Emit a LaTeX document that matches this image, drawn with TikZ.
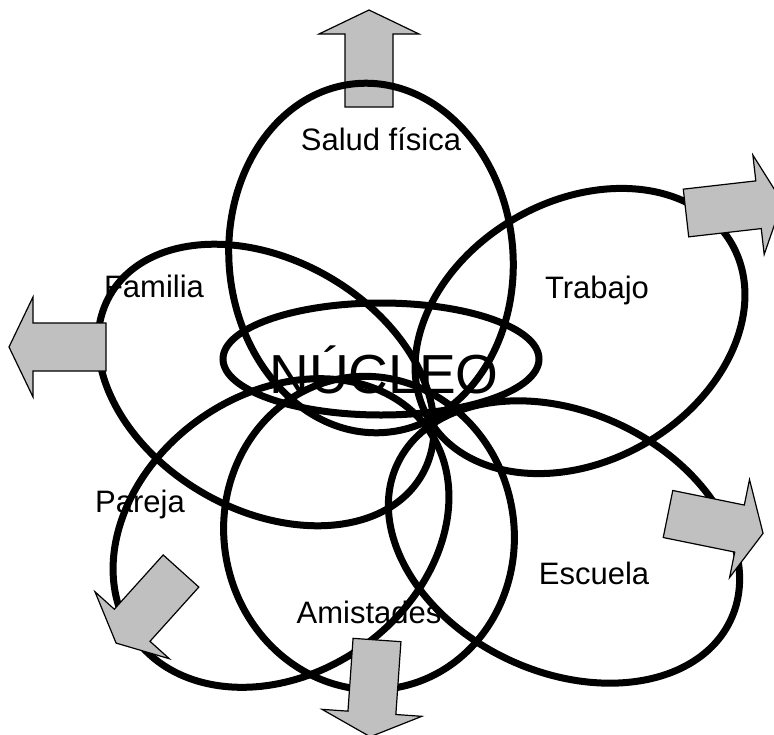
\documentclass[tikz,border=0pt]{standalone}
\usepackage{fontspec}
\setmainfont{Liberation Sans}
\usepackage{tikz}
\usetikzlibrary{positioning}
\definecolor{FlechaGris}{HTML}{C0C0C0}

\newcommand{\flecha}[3]{%
  \draw[flechagris, shift={(#1,#2)}, rotate=#3]
    (0,-24) -- (73,-24) -- (73,-50) -- (97,0) -- (73,50) -- (73,24) -- (0,24) -- cycle;}

\begin{document}
\begin{tikzpicture}[x=1pt, y=-1pt]
      \tikzset{
        petalo/.style={line width=7pt, black},
        flechagris/.style={fill=FlechaGris, draw=black, line width=1.2pt, line join=miter},
        etiqueta/.style={font=\fontsize{31}{31}\selectfont, anchor=base, inner sep=0pt},
        nucleo/.style={font=\fontsize{55}{55}\selectfont, anchor=base, inner sep=0pt}
      }
      \useasboundingbox (0,0) rectangle (774,734);

      \flecha{369}{107}{90}

      \draw[petalo] (371,258) ellipse [x radius=142, y radius=175, rotate=5];
      \draw[petalo] (580,331) ellipse [x radius=175, y radius=130, rotate=30];
      \draw[petalo] (266,385) ellipse [x radius=180, y radius=125, rotate=-30];
      \draw[petalo] (281,533) ellipse [x radius=180, y radius=140, rotate=35];
      \draw[petalo] (369,533) ellipse [x radius=145, y radius=157, rotate=10];
      \draw[petalo] (564,542) ellipse [x radius=184, y radius=130, rotate=-25];
      \draw[petalo] (381,359) ellipse [x radius=158, y radius=56];

      \node[nucleo] (nucleo) at (384,393) {NÚCLEO};
      \node[etiqueta] (salud) at (381,150) {Salud física};
      \node[etiqueta] (trabajo) at (597,298) {Trabajo};
      \node[etiqueta] (familia) at (154,297) {Familia};
      \node[etiqueta] (pareja) at (140,512) {Pareja};
      \node[etiqueta] (amistades) at (369,623) {Amistades};
      \node[etiqueta] (escuela) at (594,584) {Escuela};

      \flecha{686}{213}{6.5}
      \flecha{106}{347}{180}
      \flecha{668}{514}{-11.5}
      \flecha{181}{571}{228}
      \flecha{377}{640}{-94}
    \end{tikzpicture}
\end{document}
